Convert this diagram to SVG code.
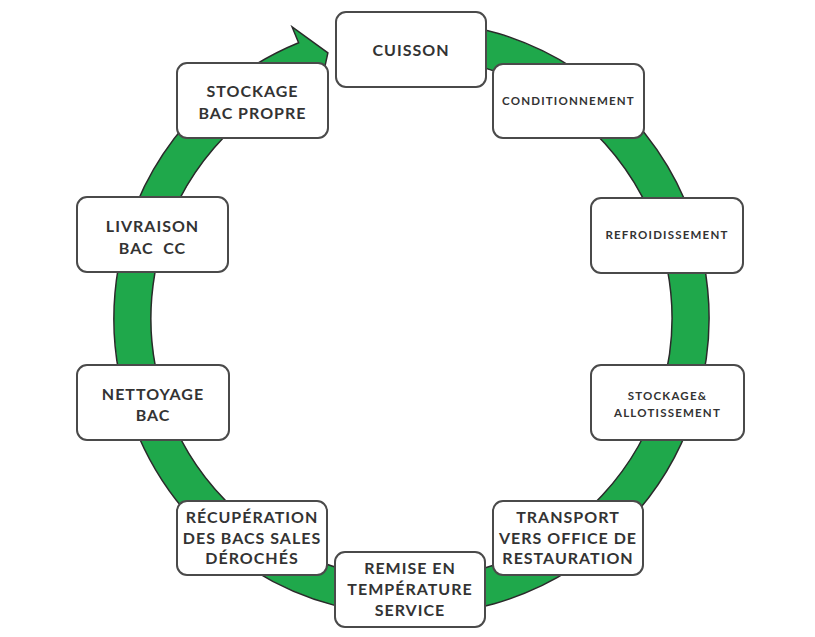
<svg xmlns="http://www.w3.org/2000/svg" width="815" height="637" viewBox="0 0 815 637">
<style>
.box{fill:#fff;stroke:#4a4a4a;stroke-width:2}
.t{font-family:Lato,"Open Sans","Liberation Sans",sans-serif;font-weight:700;fill:#333;text-anchor:middle;font-size:16px;letter-spacing:1px;white-space:pre}
.s{font-size:11.5px;letter-spacing:1.2px}
.ring{fill:#1fa84b;stroke:#2a2a2a;stroke-width:1.5;stroke-linejoin:miter}
</style>
<rect width="815" height="637" fill="#fff"/>
<g id="connectors">
<path class="ring" d="M359.84,25.02 A297.5,297.5 0 1 1 298.61,42.75 L292.12,26.93 L327.9,52.87 L319.1,92.71 L312.65,76.98 A260.5,260.5 0 1 0 366.26,61.46 Z"/>
</g>
<g id="cuisson"><rect class="box" x="336" y="12" width="150" height="75" rx="10"/><text class="t" x="411" y="56">CUISSON</text></g>
<g id="conditionnement"><rect class="box" x="493" y="64" width="151" height="74" rx="10"/><text class="t s" x="568.5" y="105">CONDITIONNEMENT</text></g>
<g id="refroidissement"><rect class="box" x="591" y="198" width="152" height="75" rx="10"/><text class="t s" x="667" y="239">REFROIDISSEMENT</text></g>
<g id="stockage-allotissement"><rect class="box" x="591" y="365" width="153" height="75" rx="10"/><text class="t s" x="667.5" y="400">STOCKAGE&amp;</text><text class="t s" x="667.5" y="417">ALLOTISSEMENT</text></g>
<g id="transport"><rect class="box" x="493" y="501" width="150" height="74" rx="10"/><text class="t" x="568" y="523">TRANSPORT</text><text class="t" x="568" y="544">VERS OFFICE DE</text><text class="t" x="568" y="564">RESTAURATION</text></g>
<g id="remise"><rect class="box" x="335" y="552" width="150" height="75" rx="10"/><text class="t" x="410" y="574">REMISE EN</text><text class="t" x="410" y="595">TEMPÉRATURE</text><text class="t" x="410" y="616">SERVICE</text></g>
<g id="recuperation"><rect class="box" x="177" y="501" width="150" height="74" rx="10"/><text class="t" x="252" y="523">RÉCUPÉRATION</text><text class="t" x="252" y="544">DES BACS SALES</text><text class="t" x="252" y="564">DÉROCHÉS</text></g>
<g id="nettoyage"><rect class="box" x="77" y="365" width="152" height="75" rx="10"/><text class="t" x="153" y="400">NETTOYAGE</text><text class="t" x="153" y="421">BAC</text></g>
<g id="livraison"><rect class="box" x="77" y="197" width="151" height="75" rx="10"/><text class="t" x="152.5" y="232">LIVRAISON</text><text class="t" x="152.5" y="254">BAC  CC</text></g>
<g id="stockage-bac"><rect class="box" x="177" y="63" width="151" height="75" rx="10"/><text class="t" x="252.5" y="97">STOCKAGE</text><text class="t" x="252.5" y="119">BAC PROPRE</text></g>
</svg>
